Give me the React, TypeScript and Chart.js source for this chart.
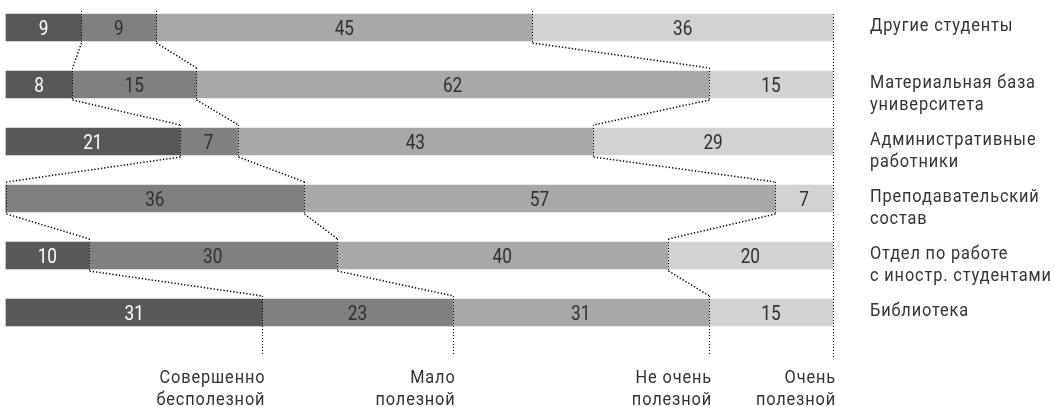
import React, { useEffect, useRef } from "react";
import { Chart, registerables } from "chart.js";

Chart.register(...registerables);

// ---- data ----
const categories = [
  "Другие студенты",
  "Материальная база университета",
  "Административные работники",
  "Преподавательский состав",
  "Отдел по работе с иностр. студентами",
  "Библиотека",
];
const categoryLines = [
  ["Другие студенты"],
  ["Материальная база", "университета"],
  ["Административные", "работники"],
  ["Преподавательский", "состав"],
  ["Отдел по работе", "с иностр. студентами"],
  ["Библиотека"],
];
const levels = ["Совершенно бесполезной", "Мало полезной", "Не очень полезной", "Очень полезной"];
const levelLines = [
  ["Совершенно", "бесполезной"],
  ["Мало", "полезной"],
  ["Не очень", "полезной"],
  ["Очень", "полезной"],
];
const useless = [9, 8, 21, 0, 10, 31];
const littleUseful = [9, 15, 7, 36, 30, 23];
const notVeryUseful = [45, 62, 43, 57, 40, 31];
const veryUseful = [36, 15, 29, 7, 20, 15];
const seriesColors = ["#58585b", "#808083", "#a8a8ab", "#d2d2d4"];
const labelColors = ["#ffffff", "#2e2e2e", "#2e2e2e", "#2e2e2e"];

const series = [useless, littleUseful, notVeryUseful, veryUseful];
const totals = categories.map((_, i) => series.reduce((s, arr) => s + arr[i], 0));
const percents = series.map((arr) => arr.map((v, i) => (v / totals[i]) * 100));

const FONT = 'Roboto, "Liberation Sans", sans-serif';
const HALF = 13.5;
const SX = 0.86; // horizontal compression to mimic a condensed face

function condensedText(ctx: CanvasRenderingContext2D, text: string, x: number, y: number, align: CanvasTextAlign) {
  ctx.save();
  ctx.translate(x, y);
  ctx.scale(SX, 1);
  ctx.textAlign = align;
  ctx.fillText(text, 0, 0);
  ctx.restore();
}

const overlayPlugin = {
  id: "overlay",
  afterDatasetsDraw(chart: any) {
    const ctx = chart.ctx as CanvasRenderingContext2D;
    const xs = chart.scales.x;
    const ys = chart.scales.y;
    const n = categories.length;
    const px = (x: number) => Math.round(x) + 0.5;

    // value labels
    ctx.save();
    ctx.font = `20px ${FONT}`;
    ctx.textBaseline = "alphabetic";
    for (let i = 0; i < n; i++) {
      const cy = ys.getPixelForValue(i);
      let cum = 0;
      for (let s = 0; s < series.length; s++) {
        const p = percents[s][i];
        if (series[s][i] > 0) {
          const x0 = xs.getPixelForValue(cum);
          const x1 = xs.getPixelForValue(cum + p);
          ctx.fillStyle = labelColors[s];
          condensedText(ctx, String(series[s][i]), (x0 + x1) / 2, cy + 7.5, "center");
        }
        cum += p;
      }
    }
    ctx.restore();

    // dotted lines
    ctx.save();
    ctx.strokeStyle = "#000";
    ctx.lineWidth = 1;
    const bounds: number[][] = [];
    for (let i = 0; i < n; i++) {
      const b: number[] = [];
      let cum = 0;
      for (let s = 0; s < series.length - 1; s++) {
        cum += percents[s][i];
        b.push(xs.getPixelForValue(cum));
      }
      bounds.push(b);
    }
    const bottomY = 354;
    for (let i = 0; i < n; i++) {
      const cy = ys.getPixelForValue(i);
      const top = cy - HALF - 3;
      const bot = i === n - 1 ? bottomY : cy + HALF + 2;
      ctx.setLineDash([1, 2]);
      ctx.lineWidth = 1;
      for (const bx of bounds[i]) {
        ctx.beginPath();
        ctx.moveTo(px(bx), top);
        ctx.lineTo(px(bx), bot);
        ctx.stroke();
      }
      if (i < n - 1) {
        const ny = ys.getPixelForValue(i + 1) - HALF - 3;
        ctx.setLineDash([1.3, 2]);
        ctx.lineWidth = 1.5;
        for (let k = 0; k < bounds[i].length; k++) {
          ctx.beginPath();
          ctx.moveTo(px(bounds[i][k]), cy + HALF + 2);
          ctx.lineTo(px(bounds[i + 1][k]), ny);
          ctx.stroke();
        }
      }
    }
    // right edge
    ctx.setLineDash([1, 2]);
    ctx.lineWidth = 1;
    const rx = px(xs.getPixelForValue(100));
    ctx.beginPath();
    ctx.moveTo(rx, ys.getPixelForValue(0) - HALF);
    ctx.lineTo(rx, 358);
    ctx.stroke();
    ctx.restore();

    // category labels on the right
    ctx.save();
    ctx.font = `19px ${FONT}`;
    (ctx as any).letterSpacing = "1px";
    ctx.fillStyle = "#333";
    ctx.textBaseline = "alphabetic";
    for (let i = 0; i < n; i++) {
      const cy = ys.getPixelForValue(i);
      categoryLines[i].forEach((line, k) => {
        condensedText(ctx, line, 870, cy + 3.5 + k * 22, "left");
      });
    }
    // level labels at bottom
    const last = n - 1;
    let cum = 0;
    for (let s = 0; s < levels.length; s++) {
      cum += percents[s][last];
      const x = xs.getPixelForValue(cum) + 3;
      levelLines[s].forEach((line, k) => {
        condensedText(ctx, line, x, 383 + k * 22, "right");
      });
    }
    ctx.restore();
  },
};

export default function App() {
  const ref = useRef<HTMLCanvasElement>(null);
  useEffect(() => {
    if (!ref.current) return;
    const chart = new Chart(ref.current, {
      type: "bar",
      data: {
        labels: categories,
        datasets: levels.map((lvl, s) => ({
          label: lvl,
          data: percents[s],
          backgroundColor: seriesColors[s],
          borderWidth: 0,
          barThickness: 27,
          clip: false as any,
        })),
      },
      options: {
        indexAxis: "y",
        animation: false,
        responsive: true,
        maintainAspectRatio: false,
        layout: { padding: { left: 6, right: 222, top: 27.5, bottom: 94.5 } },
        scales: {
          x: { stacked: true, min: 0, max: 100, display: false },
          y: { stacked: true, display: false, offset: false },
        },
        plugins: {
          legend: { display: false },
          tooltip: { enabled: false },
        },
      },
      plugins: [overlayPlugin],
    });
    return () => chart.destroy();
  }, []);
  return (
    <div style={{ position: "fixed", left: 0, top: 0, width: 1055, height: 407, background: "#fff" }}>
      <canvas ref={ref} />
    </div>
  );
}
